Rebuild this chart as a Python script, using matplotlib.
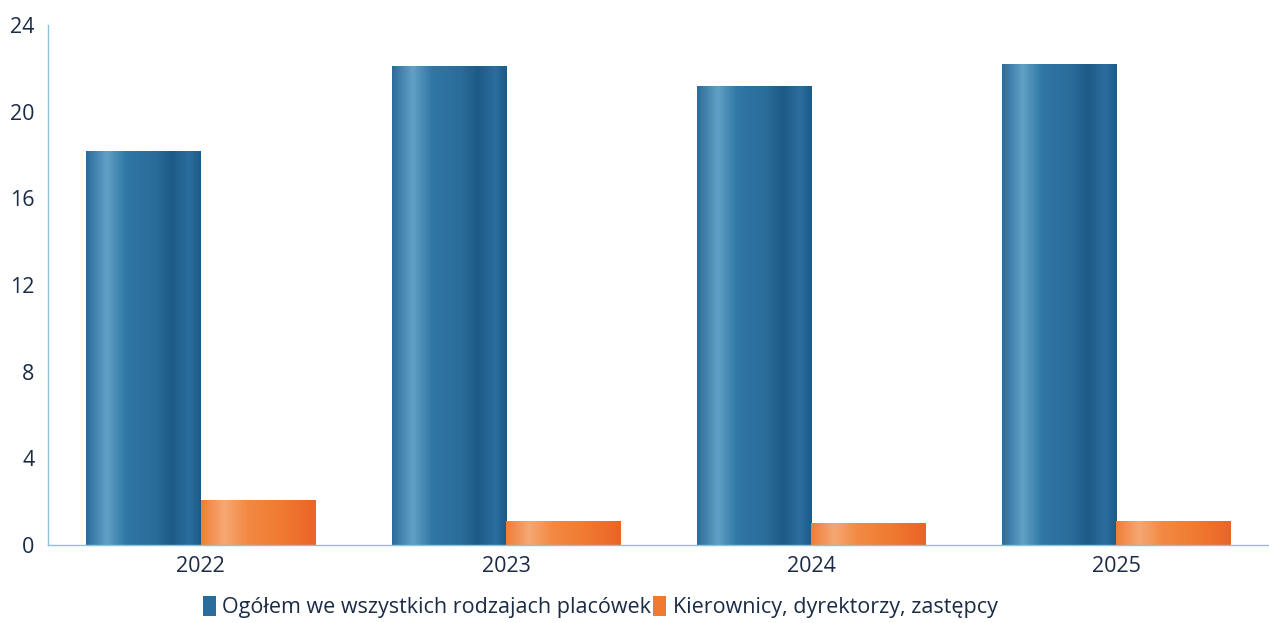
import numpy as np
import matplotlib
matplotlib.use("Agg")
import matplotlib.pyplot as plt
from matplotlib.colors import LinearSegmentedColormap
from matplotlib.patches import Patch

plt.rcParams["font.family"] = ["Open Sans", "DejaVu Sans"]

years = ["2022", "2023", "2024", "2025"]
total = [18.2, 22.1, 21.2, 22.2]
managers = [2.1, 1.1, 1.0, 1.1]
series_names = ["Ogółem we wszystkich rodzajach placówek",
                "Kierownicy, dyrektorzy, zastępcy"]
yticks = [0, 4, 8, 12, 16, 20, 24]

TEXT = "#1c2b45"
AXIS = "#8cc2de"

# cylinder-like shading across each bar
blue_cm = LinearSegmentedColormap.from_list("blue_cyl", [
    (0.0, "#2a6c9b"), (0.18, "#62a0c6"), (0.35, "#2f77a5"),
    (0.6, "#2a6c9a"), (0.75, "#1d5a86"), (0.9, "#2b6e9e"), (1.0, "#1d5a88")])
orange_cm = LinearSegmentedColormap.from_list("orange_cyl", [
    (0.0, "#ef7d38"), (0.2, "#f6a874"), (0.4, "#f28a44"),
    (0.7, "#f07a30"), (1.0, "#ea6428")])


def shade(ax, bars, cmap):
    grad = np.linspace(0, 1, 256).reshape(1, -1)
    for b in bars:
        x0, y0 = b.get_x(), b.get_y()
        w, h = b.get_width(), b.get_height()
        im = ax.imshow(grad, cmap=cmap, aspect="auto",
                       extent=(x0, x0 + w, y0, y0 + h), zorder=2)
        im.set_clip_path(b)


fig = plt.figure(figsize=(12.69, 6.23), dpi=100)
ax = fig.add_axes([0.038, 0.125, 0.962, 0.835])

x = np.arange(len(years))
w = 0.375
b1 = ax.bar(x - w / 2, total, w, color="#2a6c9b", zorder=1)
b2 = ax.bar(x + w / 2, managers, w, color="#ef7a30", zorder=1)
shade(ax, b1, blue_cm)
shade(ax, b2, orange_cm)

ax.set_xlim(-0.5, len(years) - 0.5)
ax.set_ylim(0, 24)
ax.set_yticks(yticks)
ax.set_xticks(x)
ax.set_xticklabels(years)
ax.tick_params(length=0, labelsize=15.5, colors=TEXT, pad=10)
ax.tick_params(axis="x", pad=8)

for s in ("top", "right"):
    ax.spines[s].set_visible(False)
ax.spines["left"].set_color(AXIS)
ax.spines["left"].set_linewidth(1.0)
ax.spines["bottom"].set_color(AXIS)
ax.spines["bottom"].set_linewidth(1.0)
ax.spines["bottom"].set_linestyle((0, (2, 1)))

handles = [Patch(facecolor="#2a6c9b", label=series_names[0]),
           Patch(facecolor="#ef7a30", label=series_names[1])]
fig.legend(handles=handles, loc="center", bbox_to_anchor=(0.473, 0.025),
           ncol=2, frameon=False, fontsize=15.5, handlelength=0.6,
           handleheight=1.0, handletextpad=0.3, columnspacing=0.1,
           labelcolor=TEXT)

fig.savefig("out.png", dpi=100, facecolor="white")
